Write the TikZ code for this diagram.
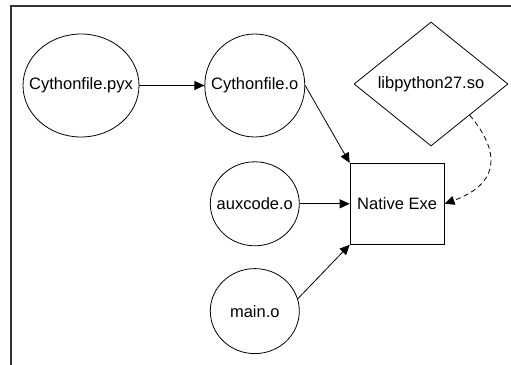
\documentclass[tikz,border=0pt]{standalone}
\usepackage{fontspec}
\setmainfont{Liberation Sans}
\usetikzlibrary{shapes.geometric,
                arrows.meta,
                positioning}
\tikzset{objfile/.style=
   {ellipse,
    draw,
    line width=0.8pt,
    inner sep=0pt}}
\tikzset{library/.style=
   {diamond,
    draw,
    line width=0.8pt,
    inner sep=0pt,
    minimum width=154pt,
    minimum height=124pt}}
\tikzset{binary/.style=
   {rectangle,
    draw,
    line width=0.8pt,
    text centered,
    minimum width=94pt,
    minimum height=81pt}}
\tikzset{arrow/.style = {draw, line width=0.8pt, -{Triangle[length=10pt,width=9pt]}}}
\tikzset{linkarrow/.style = {arrow, dash pattern=on 5pt off 3.5pt}}

\begin{document}
\begin{tikzpicture}[x=1pt, y=1pt, font=\fontsize{16.5}{19}\selectfont]

    \useasboundingbox (0,0) rectangle (511,-364);
    \draw [line width=1.2pt, black!80] (11,-366) -- (11,-6) -- (513,-6);

    \node [objfile,
           minimum width=116pt,
           minimum height=103pt,
           label=center:{Cythonfile.pyx}] (pyx) at (81,-85.5) {};

    \node [objfile,
           minimum width=100pt,
           minimum height=103pt,
           right = 65pt of pyx,
           label=center:{Cythonfile.o}] (cyo) {};

    \node [objfile,
           minimum width=89pt,
           minimum height=84pt,
           below = 24pt of cyo,
           label=center:{auxcode.o}] (aux) {};

    \node [objfile,
           minimum width=89pt,
           minimum height=85pt,
           below = 22pt of aux,
           label=center:{main.o}] (main) {};

    \node [binary,
           right = 50pt of aux] (exe) {Native Exe};

    \node [library,
           label=center:{libpython27.so}] (lib) at (431,-84) {};

    \path [arrow] (pyx) -- (cyo);
    \path [arrow] (cyo.east) -- (exe.north west);
    \path [arrow] (aux) -- (exe);
    \path [arrow] (main.16) -- (exe.south west);
    \path [linkarrow] (lib.south east) to [out=-50, in=20, looseness=1.5] (exe.east);

\end{tikzpicture}
\end{document}
